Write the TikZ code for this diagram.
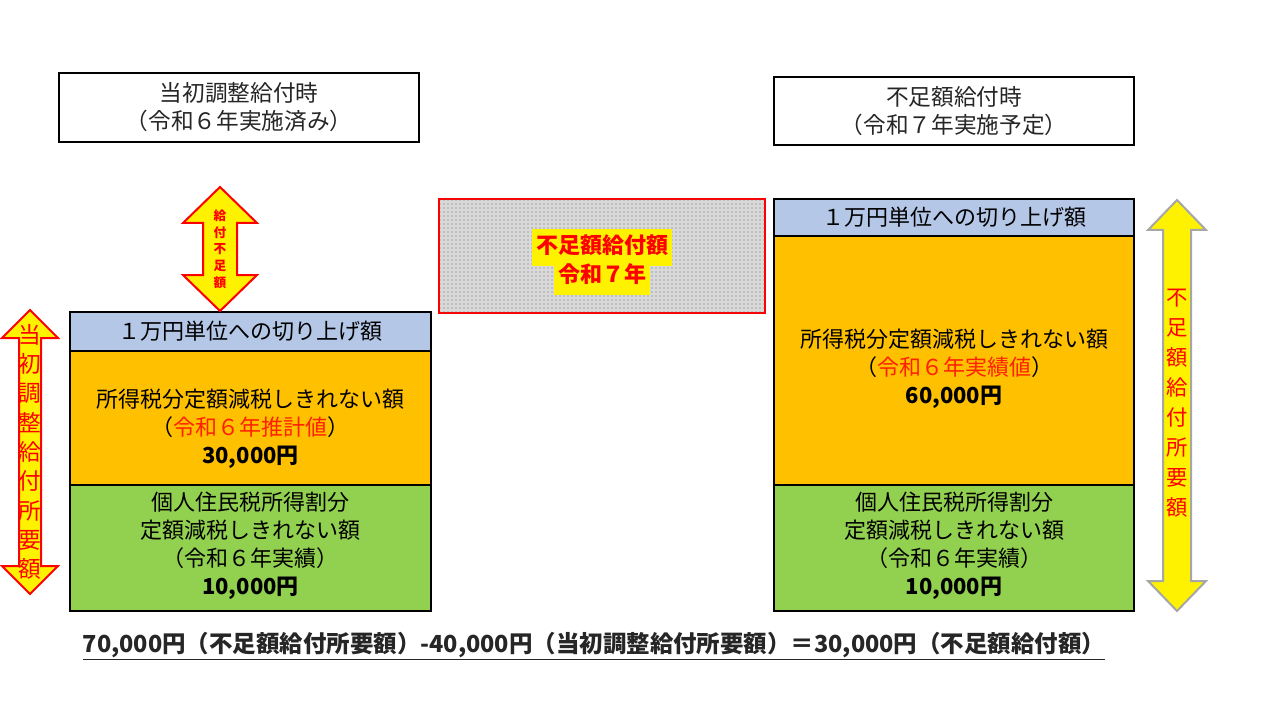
\documentclass[tikz,border=0pt]{standalone}
\usepackage{fontspec}
\setmainfont{Noto Sans CJK JP}
\usetikzlibrary{patterns}
\definecolor{bluec}{HTML}{B4C7E7}
\definecolor{orangec}{HTML}{FFC000}
\definecolor{greenc}{HTML}{92D050}
\definecolor{redc}{HTML}{FF0000}
\definecolor{redt}{HTML}{FF2000}
\tikzset{
 box/.style={draw=black,line width=2.2pt,inner sep=0pt,align=center,text=black!85},
 ttl/.style={box,fill=white,font=\fontsize{17}{21}\selectfont},
 blk/.style={font=\fontsize{16.5}{21}\selectfont},
}
\newcommand{\darrow}[8]{% cx, top, bottom, halfw, halfshaft, headlen, fill, draw
 \fill[#7,draw=#8,line width=1.5pt] (#1,#2) -- (#1+#4,#2+#6) -- (#1+#5,#2+#6) -- (#1+#5,#3-#6) -- (#1+#4,#3-#6) -- (#1,#3) -- (#1-#4,#3-#6) -- (#1-#5,#3-#6) -- (#1-#5,#2+#6) -- (#1-#4,#2+#6) -- cycle;}
\begin{document}
\begin{tikzpicture}[x=0.75pt,y=-0.75pt]
\useasboundingbox (0,0) rectangle (1280,720);
% titles
\node[ttl,minimum width=360*0.75pt,minimum height=69*0.75pt] (t1) at (239,107.5) {当初調整給付時\\（令和６年実施済み）};
\node[ttl,minimum width=360*0.75pt,minimum height=68*0.75pt] (t2) at (954,111) {不足額給付時\\（令和７年実施予定）};
% red box
\draw[redc,line width=1.8pt,fill=gray!30] (439,199) rectangle (765,313);
\fill[pattern=dots,pattern color=gray!80!black] (440,200) rectangle (764,312);
\node[font=\fontsize{16.5}{22}\selectfont\bfseries,text=redc,align=center] (rb) at (602,262) {\colorbox{yellow}{\strut 不足額給付額}\\[-7pt]\colorbox{yellow}{\strut 令和７年}};
% left stack
\draw[box,fill=bluec] (70,312) rectangle (431,351);
\draw[box,fill=orangec] (70,351) rectangle (431,485);
\draw[box,fill=greenc] (70,485) rectangle (431,611);
\node[blk] (lb) at (250.5,331) {１万円単位への切り上げ額};
\node[blk,align=center] (lo) at (250.5,429) {所得税分定額減税しきれない額\\（\textcolor{redt}{令和６年推計値}）\\\textbf{30,000円}};
\node[blk,align=center] (lg) at (250.5,546) {個人住民税所得割分\\定額減税しきれない額\\（令和６年実績）\\\textbf{10,000円}};
% right stack
\draw[box,fill=bluec] (774,199) rectangle (1134,236);
\draw[box,fill=orangec] (774,236) rectangle (1134,485);
\draw[box,fill=greenc] (774,485) rectangle (1134,611);
\node[blk] (rbl) at (954,217.5) {１万円単位への切り上げ額};
\node[blk,align=center] (ro) at (954,369) {所得税分定額減税しきれない額\\（\textcolor{redt}{令和６年実績値}）\\\textbf{60,000円}};
\node[blk,align=center] (rg) at (954,546) {個人住民税所得割分\\定額減税しきれない額\\（令和６年実績）\\\textbf{10,000円}};
% arrows
\darrow{220}{187}{311}{37}{17}{36}{yellow}{redc}
\node[font=\fontsize{9.5}{12.5}\selectfont\bfseries,text=redc,align=center] (a1) at (220,249) {給\\付\\不\\足\\額};
\darrow{30}{310}{594}{28}{11}{28}{yellow}{redc}
\node[font=\fontsize{17}{22}\selectfont,text=redc,align=center] (a2) at (30,452) {当\\初\\調\\整\\給\\付\\所\\要\\額};
\darrow{1177}{200}{611}{29}{14}{30}{yellow}{gray!70}
\node[font=\fontsize{16}{22.5}\selectfont,text=redc,align=center] (a3) at (1177,403) {不\\足\\額\\給\\付\\所\\要\\額};
% bottom
\node[font=\fontsize{17.6}{20}\selectfont\bfseries,text=black!85,anchor=west] (bt) at (78,646) {\underline{70,000円（不足額給付所要額）-40,000円（当初調整給付所要額）＝30,000円（不足額給付額）}};
\end{tikzpicture}
\end{document}
